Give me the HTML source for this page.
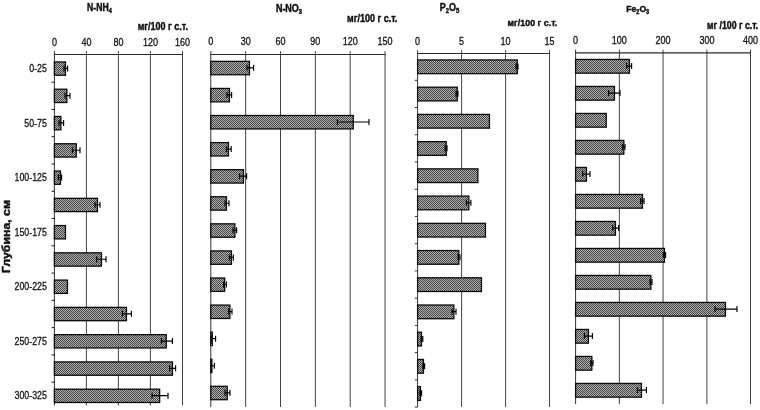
<!DOCTYPE html>
<html lang="ru">
<head>
<meta charset="utf-8">
<title>N-NH4, N-NO3, P2O5, Fe2O3</title>
<style>
html,body{margin:0;padding:0;background:#fff;}
body{width:760px;height:410px;overflow:hidden;}
svg{display:block;}
text{font-family:"Liberation Sans",sans-serif;font-size:11px;fill:#111;stroke:#111;stroke-width:0.3px;stroke-linejoin:round;}
.b{font-weight:bold;stroke-width:0.45px;}
.g{stroke:#444;stroke-width:1;fill:none;}
.a{stroke:#333;stroke-width:1;fill:none;}
.t{stroke:#2a2a2a;stroke-width:1.15;}
.e{stroke:#000;stroke-width:1.15;fill:none;}
.bar{fill:url(#h);stroke:#0a0a0a;stroke-width:1.3;}
</style>
</head>
<body>
<svg width="760" height="410" viewBox="0 0 760 410">
<defs><pattern id="h" width="2" height="2" patternUnits="userSpaceOnUse"><rect width="2" height="2" fill="#b2b2b2"/><rect width="1" height="1" fill="#444"/><rect x="1" y="1" width="1" height="1" fill="#444"/></pattern></defs>
<rect width="760" height="410" fill="#fff"/>
<g>
<line class="g" x1="86.4" y1="51.2" x2="86.4" y2="405.5"/>
<line class="g" x1="118.4" y1="51.2" x2="118.4" y2="405.5"/>
<line class="g" x1="150.4" y1="51.2" x2="150.4" y2="405.5"/>
<line class="g" x1="182.5" y1="51.2" x2="182.5" y2="405.5"/>
<line class="a t" x1="53.9" y1="54.5" x2="183" y2="54.5"/>
<line class="a" x1="54.4" y1="51.2" x2="54.4" y2="405.5"/>
<line class="a t" x1="51.6" y1="82.17" x2="54.4" y2="82.17"/>
<line class="a t" x1="51.6" y1="109.44" x2="54.4" y2="109.44"/>
<line class="a t" x1="51.6" y1="136.71" x2="54.4" y2="136.71"/>
<line class="a t" x1="51.6" y1="163.98" x2="54.4" y2="163.98"/>
<line class="a t" x1="51.6" y1="191.25" x2="54.4" y2="191.25"/>
<line class="a t" x1="51.6" y1="218.52" x2="54.4" y2="218.52"/>
<line class="a t" x1="51.6" y1="245.79" x2="54.4" y2="245.79"/>
<line class="a t" x1="51.6" y1="273.06" x2="54.4" y2="273.06"/>
<line class="a t" x1="51.6" y1="300.33" x2="54.4" y2="300.33"/>
<line class="a t" x1="51.6" y1="327.6" x2="54.4" y2="327.6"/>
<line class="a t" x1="51.6" y1="354.87" x2="54.4" y2="354.87"/>
<line class="a t" x1="51.6" y1="382.14" x2="54.4" y2="382.14"/>
<rect class="bar" x="54.4" y="61.95" width="11.05" height="13.3"/>
<path class="e" d="M64 68.4H67.6M64 65.4V71.4M67.6 65.4V71.4"/>
<rect class="bar" x="54.4" y="89.22" width="12.45" height="13.3"/>
<path class="e" d="M65 95.67H70M65 92.67V98.67M70 92.67V98.67"/>
<rect class="bar" x="54.4" y="116.49" width="6.45" height="13.3"/>
<path class="e" d="M59 122.94H63.6M59 119.94V125.94M63.6 119.94V125.94"/>
<rect class="bar" x="54.4" y="143.76" width="21.85" height="13.3"/>
<path class="e" d="M72.4 150.21H80M72.4 147.21V153.21M80 147.21V153.21"/>
<rect class="bar" x="54.4" y="171.03" width="6.05" height="13.3"/>
<path class="e" d="M58.4 177.48H61.6M58.4 174.48V180.48M61.6 174.48V180.48"/>
<rect class="bar" x="54.4" y="198.3" width="43.05" height="13.3"/>
<path class="e" d="M95 204.75H100M95 201.75V207.75M100 201.75V207.75"/>
<rect class="bar" x="54.4" y="225.57" width="11.05" height="13.3"/>
<rect class="bar" x="54.4" y="252.84" width="47.05" height="13.3"/>
<path class="e" d="M96.6 259.29H106M96.6 256.29V262.29M106 256.29V262.29"/>
<rect class="bar" x="54.4" y="280.11" width="13.05" height="13.3"/>
<rect class="bar" x="54.4" y="307.38" width="72.05" height="13.3"/>
<path class="e" d="M122.4 313.83H131.4M122.4 310.83V316.83M131.4 310.83V316.83"/>
<rect class="bar" x="54.4" y="334.65" width="111.85" height="13.3"/>
<path class="e" d="M161.4 341.1H172.4M161.4 338.1V344.1M172.4 338.1V344.1"/>
<rect class="bar" x="54.4" y="361.92" width="118.05" height="13.3"/>
<path class="e" d="M169.6 368.37H175.6M169.6 365.37V371.37M175.6 365.37V371.37"/>
<rect class="bar" x="54.4" y="389.19" width="105.25" height="13.3"/>
<path class="e" d="M152 395.64H168M152 392.64V398.64M168 392.64V398.64"/>
<text text-anchor="middle" transform="translate(54.4,45.5) scale(0.82,1)">0</text>
<text text-anchor="middle" transform="translate(86.4,45.5) scale(0.82,1)">40</text>
<text text-anchor="middle" transform="translate(118.4,45.5) scale(0.82,1)">80</text>
<text text-anchor="middle" transform="translate(150.4,45.5) scale(0.82,1)">120</text>
<text text-anchor="middle" transform="translate(182.5,45.5) scale(0.82,1)">160</text>
<text class="b" style="font-size:10.3px" text-anchor="middle" transform="translate(99.4,11) scale(0.84,1)">N-NH<tspan style="font-size:6.7px" dy="2">4</tspan></text>
<text class="b" style="font-size:11px" text-anchor="end" transform="translate(188,30) scale(0.82,1)">мг/100 г с.т.</text>
</g>
<g>
<line class="g" x1="245.65" y1="51.2" x2="245.65" y2="407"/>
<line class="g" x1="280.5" y1="51.2" x2="280.5" y2="407"/>
<line class="g" x1="315.35" y1="51.2" x2="315.35" y2="407"/>
<line class="g" x1="350.2" y1="51.2" x2="350.2" y2="407"/>
<line class="g" x1="385.05" y1="51.2" x2="385.05" y2="407"/>
<line class="a t" x1="210.3" y1="54.5" x2="385.55" y2="54.5"/>
<line class="a" x1="210.8" y1="51.2" x2="210.8" y2="407"/>
<rect class="bar" x="210.8" y="61.35" width="38.65" height="13.4"/>
<path class="e" d="M247 67.85H253.6M247 64.85V70.85M253.6 64.85V70.85"/>
<rect class="bar" x="210.8" y="88.43" width="18.65" height="13.4"/>
<path class="e" d="M227 94.93H231.6M227 91.93V97.93M231.6 91.93V97.93"/>
<rect class="bar" x="210.8" y="115.51" width="142.45" height="13.4"/>
<path class="e" d="M337.4 122.01H369M337.4 119.01V125.01M369 119.01V125.01"/>
<rect class="bar" x="210.8" y="142.59" width="17.65" height="13.4"/>
<path class="e" d="M226.4 149.09H231.2M226.4 146.09V152.09M231.2 146.09V152.09"/>
<rect class="bar" x="210.8" y="169.67" width="32.65" height="13.4"/>
<path class="e" d="M239.6 176.17H246.6M239.6 173.17V179.17M246.6 173.17V179.17"/>
<rect class="bar" x="210.8" y="196.75" width="15.65" height="13.4"/>
<path class="e" d="M225 203.25H229M225 200.25V206.25M229 200.25V206.25"/>
<rect class="bar" x="210.8" y="223.83" width="24.05" height="13.4"/>
<path class="e" d="M233 230.33H236.6M233 227.33V233.33M236.6 227.33V233.33"/>
<rect class="bar" x="210.8" y="250.91" width="20.65" height="13.4"/>
<path class="e" d="M229.4 257.41H233.4M229.4 254.41V260.41M233.4 254.41V260.41"/>
<rect class="bar" x="210.8" y="277.99" width="13.85" height="13.4"/>
<path class="e" d="M223.6 284.49H226.4M223.6 281.49V287.49M226.4 281.49V287.49"/>
<rect class="bar" x="210.8" y="305.07" width="19.05" height="13.4"/>
<path class="e" d="M228.6 311.57H232M228.6 308.57V314.57M232 308.57V314.57"/>
<rect class="bar" x="210.8" y="332.15" width="1.45" height="13.4"/>
<path class="e" d="M211.6 338.65H215.6M211.6 335.65V341.65M215.6 335.65V341.65"/>
<rect class="bar" x="210.8" y="359.23" width="1.05" height="13.4"/>
<path class="e" d="M211.4 365.73H214.4M211.4 362.73V368.73M214.4 362.73V368.73"/>
<rect class="bar" x="210.8" y="386.31" width="16.45" height="13.4"/>
<path class="e" d="M225 392.81H230M225 389.81V395.81M230 389.81V395.81"/>
<text text-anchor="middle" transform="translate(210.8,45) scale(0.82,1)">0</text>
<text text-anchor="middle" transform="translate(245.65,45) scale(0.82,1)">30</text>
<text text-anchor="middle" transform="translate(280.5,45) scale(0.82,1)">60</text>
<text text-anchor="middle" transform="translate(315.35,45) scale(0.82,1)">90</text>
<text text-anchor="middle" transform="translate(350.2,45) scale(0.82,1)">120</text>
<text text-anchor="middle" transform="translate(385.05,45) scale(0.82,1)">150</text>
<text class="b" style="font-size:10px" text-anchor="middle" transform="translate(289,11.6) scale(0.9,1)">N-NO<tspan style="font-size:6.5px" dy="2">3</tspan></text>
<text class="b" style="font-size:10px" text-anchor="end" transform="translate(397.3,22) scale(0.9,1)">мг/100 г с.т.</text>
</g>
<g>
<line class="g" x1="461.6" y1="50.2" x2="461.6" y2="407"/>
<line class="g" x1="505.6" y1="50.2" x2="505.6" y2="407"/>
<line class="g" x1="549.5" y1="50.2" x2="549.5" y2="407"/>
<line class="a t" x1="417.1" y1="53.5" x2="550" y2="53.5"/>
<line class="a" x1="417.6" y1="50.2" x2="417.6" y2="407"/>
<line class="a" x1="414.8" y1="80.33" x2="417.6" y2="80.33"/>
<line class="a" x1="414.8" y1="107.56" x2="417.6" y2="107.56"/>
<line class="a" x1="414.8" y1="134.79" x2="417.6" y2="134.79"/>
<line class="a" x1="414.8" y1="162.02" x2="417.6" y2="162.02"/>
<line class="a" x1="414.8" y1="189.25" x2="417.6" y2="189.25"/>
<line class="a" x1="414.8" y1="216.48" x2="417.6" y2="216.48"/>
<line class="a" x1="414.8" y1="243.71" x2="417.6" y2="243.71"/>
<line class="a" x1="414.8" y1="270.94" x2="417.6" y2="270.94"/>
<line class="a" x1="414.8" y1="298.17" x2="417.6" y2="298.17"/>
<line class="a" x1="414.8" y1="325.4" x2="417.6" y2="325.4"/>
<line class="a" x1="414.8" y1="352.63" x2="417.6" y2="352.63"/>
<line class="a" x1="414.8" y1="379.86" x2="417.6" y2="379.86"/>
<line class="a" x1="414.8" y1="407.09" x2="417.6" y2="407.09"/>
<rect class="bar" x="417.6" y="59.95" width="99.65" height="13.7"/>
<path class="e" d="M516 66.6H518M516 63.6V69.6M518 63.6V69.6"/>
<rect class="bar" x="417.6" y="87.18" width="39.65" height="13.7"/>
<path class="e" d="M456 93.83H458M456 90.83V96.83M458 90.83V96.83"/>
<rect class="bar" x="417.6" y="114.41" width="71.85" height="13.7"/>
<rect class="bar" x="417.6" y="141.64" width="28.65" height="13.7"/>
<path class="e" d="M445 148.29H447M445 145.29V151.29M447 145.29V151.29"/>
<rect class="bar" x="417.6" y="168.87" width="60.25" height="13.7"/>
<rect class="bar" x="417.6" y="196.1" width="51.25" height="13.7"/>
<path class="e" d="M466.4 202.75H470.9M466.4 199.75V205.75M470.9 199.75V205.75"/>
<rect class="bar" x="417.6" y="223.33" width="67.85" height="13.7"/>
<rect class="bar" x="417.6" y="250.56" width="41.25" height="13.7"/>
<path class="e" d="M458 257.21H460M458 254.21V260.21M460 254.21V260.21"/>
<rect class="bar" x="417.6" y="277.79" width="63.85" height="13.7"/>
<rect class="bar" x="417.6" y="305.02" width="36.25" height="13.7"/>
<path class="e" d="M452 311.67H456M452 308.67V314.67M456 308.67V314.67"/>
<rect class="bar" x="417.6" y="332.25" width="3.85" height="13.7"/>
<path class="e" d="M421.2 338.9H422.8M421.2 335.9V341.9M422.8 335.9V341.9"/>
<rect class="bar" x="417.6" y="359.48" width="5.85" height="13.7"/>
<path class="e" d="M423 366.13H424.6M423 363.13V369.13M424.6 363.13V369.13"/>
<rect class="bar" x="417.6" y="386.71" width="2.85" height="13.7"/>
<path class="e" d="M420 393.36H421.6M420 390.36V396.36M421.6 390.36V396.36"/>
<text text-anchor="middle" transform="translate(417.6,44.8) scale(0.82,1)">0</text>
<text text-anchor="middle" transform="translate(461.6,44.8) scale(0.82,1)">5</text>
<text text-anchor="middle" transform="translate(505.6,44.8) scale(0.82,1)">10</text>
<text text-anchor="middle" transform="translate(549.5,44.8) scale(0.82,1)">15</text>
<text class="b" style="font-size:10px" text-anchor="middle" transform="translate(449.5,11.4) scale(0.9,1)">P<tspan style="font-size:6.5px" dy="2">2</tspan><tspan dy="-2">O</tspan><tspan style="font-size:6.5px" dy="2">5</tspan></text>
<text class="b" style="font-size:9.8px" text-anchor="end" transform="translate(557.3,25.8) scale(0.91,1)">мг/100 г с.т.</text>
</g>
<g>
<line class="g" x1="619.35" y1="49.6" x2="619.35" y2="404.2"/>
<line class="g" x1="663.05" y1="49.6" x2="663.05" y2="404.2"/>
<line class="g" x1="706.9" y1="49.6" x2="706.9" y2="404.2"/>
<line class="g" x1="750.5" y1="49.6" x2="750.5" y2="404.2"/>
<line class="a t" x1="575.1" y1="52.9" x2="751" y2="52.9"/>
<line class="a" x1="575.6" y1="49.6" x2="575.6" y2="404.2"/>
<rect class="bar" x="575.6" y="59.45" width="53.85" height="13.7"/>
<path class="e" d="M626.6 66.1H631.6M626.6 63.1V69.1M631.6 63.1V69.1"/>
<rect class="bar" x="575.6" y="86.45" width="38.85" height="13.7"/>
<path class="e" d="M608.6 93.1H620M608.6 90.1V96.1M620 90.1V96.1"/>
<rect class="bar" x="575.6" y="113.45" width="30.65" height="13.7"/>
<rect class="bar" x="575.6" y="140.45" width="48.25" height="13.7"/>
<path class="e" d="M622.4 147.1H625M622.4 144.1V150.1M625 144.1V150.1"/>
<rect class="bar" x="575.6" y="167.45" width="10.85" height="13.7"/>
<path class="e" d="M582.6 174.1H590M582.6 171.1V177.1M590 171.1V177.1"/>
<rect class="bar" x="575.6" y="194.45" width="66.85" height="13.7"/>
<path class="e" d="M640.6 201.1H644M640.6 198.1V204.1M644 198.1V204.1"/>
<rect class="bar" x="575.6" y="221.45" width="39.85" height="13.7"/>
<path class="e" d="M612.6 228.1H618.6M612.6 225.1V231.1M618.6 225.1V231.1"/>
<rect class="bar" x="575.6" y="248.45" width="88.85" height="13.7"/>
<path class="e" d="M663.4 255.1H665.6M663.4 252.1V258.1M665.6 252.1V258.1"/>
<rect class="bar" x="575.6" y="275.45" width="75.25" height="13.7"/>
<path class="e" d="M650 282.1H652M650 279.1V285.1M652 279.1V285.1"/>
<rect class="bar" x="575.6" y="302.45" width="149.85" height="13.7"/>
<path class="e" d="M715 309.1H737M715 306.1V312.1M737 306.1V312.1"/>
<rect class="bar" x="575.6" y="329.45" width="12.85" height="13.7"/>
<path class="e" d="M584.4 336.1H592.4M584.4 333.1V339.1M592.4 333.1V339.1"/>
<rect class="bar" x="575.6" y="356.45" width="16.25" height="13.7"/>
<path class="e" d="M590.6 363.1H593M590.6 360.1V366.1M593 360.1V366.1"/>
<rect class="bar" x="575.6" y="383.45" width="65.85" height="13.7"/>
<path class="e" d="M637.4 390.1H646.4M637.4 387.1V393.1M646.4 387.1V393.1"/>
<text text-anchor="middle" transform="translate(575.6,44) scale(0.82,1)">0</text>
<text text-anchor="middle" transform="translate(619.35,44) scale(0.82,1)">100</text>
<text text-anchor="middle" transform="translate(663.05,44) scale(0.82,1)">200</text>
<text text-anchor="middle" transform="translate(706.9,44) scale(0.82,1)">300</text>
<text text-anchor="middle" transform="translate(750.5,44) scale(0.82,1)">400</text>
<text class="b" style="font-size:9.8px" text-anchor="middle" transform="translate(637.7,12.4) scale(0.88,1)">Fe<tspan style="font-size:6.37px" dy="2">2</tspan><tspan dy="-2">O</tspan><tspan style="font-size:6.37px" dy="2">3</tspan></text>
<text class="b" style="font-size:10px" text-anchor="end" transform="translate(758.2,28.5) scale(0.875,1)">мг /100 г с.т.</text>
</g>
<text text-anchor="end" transform="translate(46.8,72.4) scale(0.8,1)">0-25</text>
<text text-anchor="end" transform="translate(46.8,126.86) scale(0.8,1)">50-75</text>
<text text-anchor="end" transform="translate(46.8,181.32) scale(0.8,1)">100-125</text>
<text text-anchor="end" transform="translate(46.8,235.78) scale(0.8,1)">150-175</text>
<text text-anchor="end" transform="translate(46.8,290.24) scale(0.8,1)">200-225</text>
<text text-anchor="end" transform="translate(46.8,344.7) scale(0.8,1)">250-275</text>
<text text-anchor="end" transform="translate(46.8,399.16) scale(0.8,1)">300-325</text>
<text class="b" style="font-size:11.8px" text-anchor="middle" transform="translate(10,236.5) rotate(-90) scale(1.045,1)">Глубина, см</text>
</svg>
</body>
</html>
